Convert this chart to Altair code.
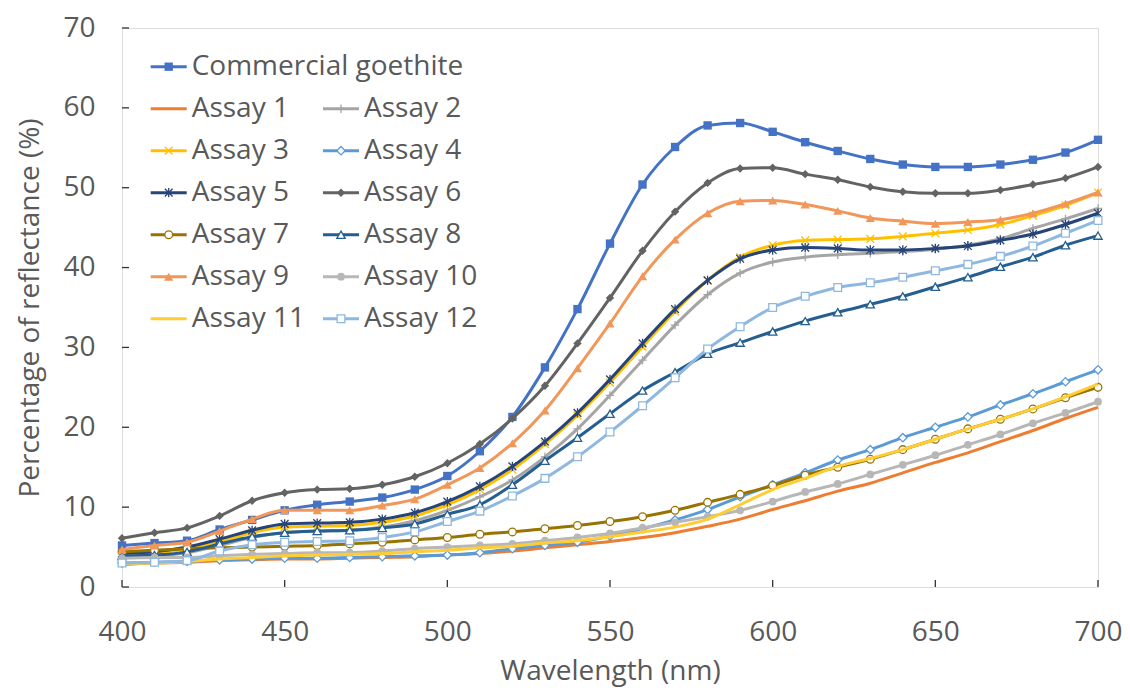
import altair as alt
import pandas as pd

wavelength = list(range(400, 701, 10))

goethite = [5.2, 5.5, 5.8, 7.2, 8.4, 9.6, 10.3, 10.7, 11.2, 12.2, 13.9, 17.0, 21.3, 27.5, 34.8, 43.0,
            50.4, 55.1, 57.8, 58.1, 57.0, 55.7, 54.6, 53.6, 52.9, 52.6, 52.6, 52.9, 53.5, 54.4, 56.0]
assay1 = [2.8, 3.0, 3.1, 3.3, 3.4, 3.5, 3.5, 3.6, 3.7, 3.8, 4.0, 4.2, 4.5, 4.9, 5.3, 5.7,
          6.2, 6.8, 7.6, 8.5, 9.7, 10.8, 12.0, 13.0, 14.3, 15.6, 16.8, 18.2, 19.6, 21.1, 22.5]
assay2 = [3.7, 3.9, 4.3, 5.2, 6.2, 6.8, 7.0, 7.1, 7.5, 8.3, 9.6, 11.3, 13.4, 16.3, 19.8, 24.0,
          28.4, 32.8, 36.6, 39.3, 40.7, 41.3, 41.6, 41.8, 42.0, 42.3, 42.8, 43.6, 44.9, 46.1, 47.4]
assay3 = [4.0, 4.2, 4.8, 5.7, 6.8, 7.5, 7.6, 7.7, 8.1, 8.9, 10.3, 12.2, 14.7, 17.9, 21.5, 25.6,
          30.1, 34.5, 38.4, 41.3, 42.8, 43.4, 43.5, 43.6, 43.9, 44.3, 44.7, 45.4, 46.5, 47.8, 49.4]
assay4 = [3.0, 3.1, 3.2, 3.4, 3.5, 3.6, 3.6, 3.7, 3.8, 3.9, 4.0, 4.3, 4.8, 5.2, 5.6, 6.4,
          7.3, 8.4, 9.7, 11.3, 12.8, 14.3, 15.9, 17.2, 18.7, 20.0, 21.3, 22.8, 24.2, 25.7, 27.2]
assay5 = [4.2, 4.4, 5.0, 6.0, 7.1, 7.9, 8.0, 8.1, 8.5, 9.3, 10.7, 12.6, 15.1, 18.2, 21.8, 26.0,
          30.5, 34.8, 38.4, 41.1, 42.2, 42.5, 42.4, 42.2, 42.2, 42.4, 42.7, 43.4, 44.2, 45.4, 46.8]
assay6 = [6.1, 6.8, 7.4, 8.9, 10.8, 11.8, 12.2, 12.3, 12.8, 13.8, 15.5, 17.9, 21.1, 25.2, 30.5, 36.2,
          42.1, 47.0, 50.6, 52.4, 52.5, 51.7, 51.0, 50.1, 49.5, 49.3, 49.3, 49.7, 50.4, 51.2, 52.6]
assay7 = [4.4, 4.6, 4.8, 4.9, 5.0, 5.1, 5.2, 5.4, 5.6, 5.9, 6.2, 6.6, 6.9, 7.3, 7.7, 8.2,
          8.8, 9.6, 10.6, 11.6, 12.7, 14.0, 15.0, 16.0, 17.2, 18.5, 19.8, 21.0, 22.3, 23.7, 25.0]
assay8 = [3.9, 4.0, 4.4, 5.4, 6.3, 6.8, 7.0, 7.1, 7.4, 7.9, 9.1, 10.3, 12.8, 15.8, 18.7, 21.7,
          24.6, 26.9, 29.2, 30.6, 32.0, 33.3, 34.4, 35.4, 36.4, 37.6, 38.8, 40.1, 41.3, 42.8, 44.0]
assay9 = [4.7, 5.2, 5.6, 7.0, 8.5, 9.6, 9.6, 9.6, 10.2, 11.0, 12.8, 14.9, 18.0, 22.1, 27.4, 33.0,
          38.9, 43.5, 46.8, 48.3, 48.4, 47.9, 47.1, 46.2, 45.8, 45.5, 45.7, 46.0, 46.8, 48.0, 49.4]
assay10 = [3.6, 3.7, 3.7, 3.9, 4.1, 4.2, 4.3, 4.3, 4.5, 4.8, 5.0, 5.2, 5.4, 5.8, 6.2, 6.7,
           7.4, 8.1, 8.8, 9.6, 10.7, 11.9, 12.9, 14.1, 15.3, 16.5, 17.8, 19.1, 20.5, 21.8, 23.2]
assay11 = [2.9, 3.0, 3.2, 3.5, 3.7, 3.9, 4.0, 4.1, 4.2, 4.4, 4.6, 4.9, 5.1, 5.5, 5.8, 6.3,
           6.9, 7.5, 8.5, 10.3, 12.2, 13.6, 15.1, 16.1, 17.2, 18.5, 19.8, 21.0, 22.3, 23.8, 25.4]
assay12 = [3.0, 3.1, 3.3, 4.5, 5.3, 5.6, 5.7, 5.8, 6.2, 6.9, 8.2, 9.5, 11.4, 13.6, 16.3, 19.4,
           22.7, 26.2, 29.8, 32.6, 35.0, 36.4, 37.5, 38.1, 38.8, 39.6, 40.4, 41.4, 42.7, 44.3, 45.9]

series_names = ["Commercial goethite", "Assay 1", "Assay 2", "Assay 3", "Assay 4", "Assay 5",
                "Assay 6", "Assay 7", "Assay 8", "Assay 9", "Assay 10", "Assay 11", "Assay 12"]
series_values = [goethite, assay1, assay2, assay3, assay4, assay5, assay6, assay7, assay8,
                 assay9, assay10, assay11, assay12]
series_colors = ["#4472C4", "#ED7D31", "#A5A5A5", "#FFC000", "#5B9BD5", "#264478", "#636363",
                 "#997300", "#255E91", "#F1975A", "#B7B7B7", "#FFCD33", "#8FB8E0"]

PLUS = "M-1,0L1,0M0,-1L0,1"
XMARK = "M-1,-1L1,1M-1,1L1,-1"
STAR = "M-1,-1L1,1M-1,1L1,-1M0,-1.2L0,1.2"
# (shape, style, size): style "fill" = filled, "open" = white fill, "path" = stroke only, None = no marker
series_markers = [("square", "fill", 70), (None, None, 0), (PLUS, "path", 70), (XMARK, "path", 60),
                  ("diamond", "open", 70), (STAR, "path", 60), ("diamond", "fill", 70),
                  ("circle", "open", 60), ("triangle-up", "open", 70), ("triangle-up", "fill", 85),
                  ("circle", "fill", 60), (None, None, 0), ("square", "open", 60)]

legend_rows = [0, 1, 1, 2, 2, 3, 3, 4, 4, 5, 5, 6, 6]
legend_cols = [0, 0, 1, 0, 1, 0, 1, 0, 1, 0, 1, 0, 1]

y_tick_values = [0, 10, 20, 30, 40, 50, 60, 70]
x_tick_values = [400, 450, 500, 550, 600, 650, 700]

W, H = 976, 559
FONT = "Open Sans"
TXT = "#595959"
FS = 28

xscale = alt.Scale(domain=[400, 700], nice=False, zero=False)
yscale = alt.Scale(domain=[0, 70], nice=False)

rows = []
for name, vals in zip(series_names, series_values):
    for w, v in zip(wavelength, vals):
        rows.append({"series": name, "wl": w, "val": v})
df = pd.DataFrame(rows)

# legend placed in data units derived from row / column indices
px_x = (700 - 400) / W
px_y = 70 / H
leg = []
for name, r, c in zip(series_names, legend_rows, legend_cols):
    x0 = 400 + (28.7 + c * 172.3) * px_x
    leg.append({"series": name,
                "x1": x0, "x2": x0 + 36 * px_x, "xm": x0 + 18 * px_x, "xt": x0 + 41 * px_x,
                "y": 70 - (38.7 + 42.0 * r) * px_y})
legdf = pd.DataFrame(leg)

X = alt.X("wl:Q", scale=xscale, title="Wavelength (nm)",
          axis=alt.Axis(values=x_tick_values, grid=False, ticks=False, domain=False,
                        labelFont=FONT, labelFontSize=FS, labelColor=TXT, labelPadding=31,
                        titleFont=FONT, titleFontSize=FS, titleColor=TXT, titleFontWeight="normal",
                        titlePadding=11, labelFlush=False))
Y = alt.Y("val:Q", scale=yscale, title="Percentage of reflectance (%)",
          axis=alt.Axis(values=y_tick_values, grid=False, ticks=False, domain=False,
                        labelFont=FONT, labelFontSize=FS, labelColor=TXT, labelPadding=27,
                        titleFont=FONT, titleFontSize=FS, titleColor=TXT, titleFontWeight="normal",
                        titlePadding=18))

def marker(sub, color, shape, style, size):
    if style == "fill":
        return sub.mark_point(shape=shape, filled=True, color=color, size=size, opacity=1)
    if style == "open":
        return sub.mark_point(shape=shape, filled=False, fill="white", fillOpacity=1, stroke=color,
                              strokeWidth=1.3, size=size, opacity=1)
    return sub.mark_point(shape=shape, filled=False, stroke=color, strokeWidth=1.3,
                          size=size, opacity=1)

layers = []
base = alt.Chart(df)
for name, color, (shape, style, size) in zip(series_names, series_colors, series_markers):
    sub = base.transform_filter(alt.datum.series == name)
    layers.append(sub.mark_line(color=color, strokeWidth=3, interpolate="monotone").encode(x=X, y=Y))
    if shape is not None:
        layers.append(marker(sub, color, shape, style, size).encode(x="wl:Q", y="val:Q"))

# legend
lbase = alt.Chart(legdf)
for name, color, (shape, style, size) in zip(series_names, series_colors, series_markers):
    sub = lbase.transform_filter(alt.datum.series == name)
    layers.append(sub.mark_rule(color=color, strokeWidth=3).encode(x="x1:Q", x2="x2:Q", y="y:Q"))
    if shape is not None:
        layers.append(marker(sub, color, shape, style, size).encode(x="xm:Q", y="y:Q"))
layers.append(lbase.mark_text(align="left", baseline="middle", font=FONT, fontSize=FS, color=TXT)
              .encode(x="xt:Q", y="y:Q", text="series:N"))

# inner tick marks
ytick = alt.Chart(pd.DataFrame({"v": y_tick_values})).mark_rule(color="#333333", strokeWidth=1.3).encode(
    y="v:Q", x=alt.value(0), x2=alt.value(7))
xtick = alt.Chart(pd.DataFrame({"v": x_tick_values})).mark_rule(color="#333333", strokeWidth=1.3).encode(
    x="v:Q", y=alt.value(H), y2=alt.value(H - 7))
layers += [ytick, xtick]

chart = alt.layer(*layers).properties(
    width=W, height=H,
    autosize=alt.AutoSizeParams(type="none"),
    padding={"left": 114, "top": 20, "right": 24, "bottom": 102},
).configure_view(stroke="#262626", strokeWidth=1.5).configure(background="white")

chart.save("out.html", embed_options={"renderer": "svg", "actions": False})
